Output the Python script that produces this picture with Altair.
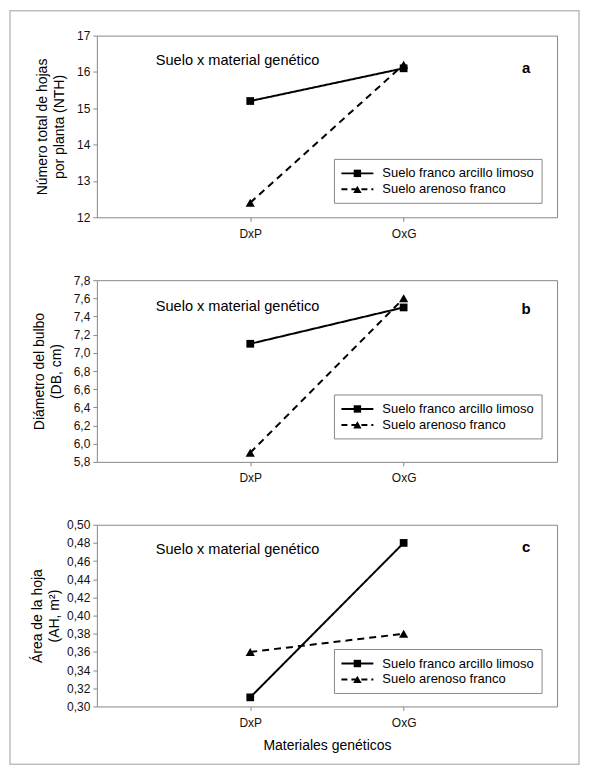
import pandas as pd
import altair as alt

materiales = ["DxP", "OxG"]
series = ["Suelo franco arcillo limoso", "Suelo arenoso franco"]

# a) numero total de hojas
nth_fal = [15.2, 16.1]
nth_af = [12.4, 16.2]
# b) diametro del bulbo
db_fal = [7.1, 7.5]
db_af = [5.9, 7.6]
# c) area de la hoja
ah_fal = [0.31, 0.48]
ah_af = [0.36, 0.38]

ticks_a = [12, 13, 14, 15, 16, 17]
ticks_b = [5.8, 6.0, 6.2, 6.4, 6.6, 6.8, 7.0, 7.2, 7.4, 7.6, 7.8]
ticks_c = [0.30, 0.32, 0.34, 0.36, 0.38, 0.40, 0.42, 0.44, 0.46, 0.48, 0.50]

FONT = "Liberation Sans"
W, H = 461, 182
DASH = [7, 5]


def tabla(fal, af):
    filas = []
    for s, vals in zip(series, [fal, af]):
        for m, v in zip(materiales, vals):
            filas.append({"material": m, "serie": s, "valor": v})
    return pd.DataFrame(filas)


def leyenda(top):
    caja = alt.Chart(pd.DataFrame({"k": [0]})).mark_rect(
        fill="white", stroke="#888888", strokeWidth=1
    ).encode(x=alt.value(238), x2=alt.value(446), y=alt.value(top), y2=alt.value(top + 44))
    capas = [caja]
    for i, (s, forma, dash) in enumerate(zip(series, ["square", "triangle-up"], [[1, 0], [6, 4]])):
        ly = top + 14 + 16 * i
        d = pd.DataFrame({"serie": [s]})
        capas.append(alt.Chart(d).mark_rule(color="black", strokeWidth=2, strokeDash=dash).encode(
            x=alt.value(245), x2=alt.value(277), y=alt.value(ly)))
        capas.append(alt.Chart(d).mark_point(shape=forma, filled=True, opacity=1, color="black",
                                             size=55 if forma == "square" else 70).encode(
            x=alt.value(261), y=alt.value(ly)))
        capas.append(alt.Chart(d).mark_text(align="left", baseline="middle", fontSize=13,
                                            font=FONT, color="black").encode(
            x=alt.value(286), y=alt.value(ly), text="serie:N"))
    return capas


def panel(fal, af, dominio, ticks, titulo_y, expr, letra, letra_y, texto_y, ley_top,
          pad_titulo, titulo_x=None, marco=False):
    df = tabla(fal, af)
    xaxis = alt.Axis(labelAngle=0, tickSize=4, labelPadding=7, domain=False)
    if titulo_x:
        xaxis = alt.Axis(labelAngle=0, tickSize=4, labelPadding=7, domain=False,
                         title=titulo_x, titlePadding=10)
    x = alt.X("material:N", scale=alt.Scale(domain=materiales, padding=1),
              axis=xaxis, title=titulo_x if titulo_x else None)
    y = alt.Y("valor:Q", scale=alt.Scale(domain=dominio, nice=False, zero=False),
              axis=alt.Axis(values=ticks, labelExpr=expr, tickSize=4, labelPadding=3,
                            domain=False, titlePadding=pad_titulo, titleLineHeight=17),
              title=titulo_y)
    base = alt.Chart(df).encode(x=x, y=y)
    lineas = base.mark_line(color="black", strokeWidth=2).encode(
        strokeDash=alt.StrokeDash("serie:N", scale=alt.Scale(domain=series, range=[[1, 0], DASH]),
                                  legend=None),
        detail="serie:N")
    puntos = base.mark_point(filled=True, opacity=1, color="black").encode(
        shape=alt.Shape("serie:N", scale=alt.Scale(domain=series, range=["square", "triangle-up"]),
                        legend=None),
        size=alt.Size("serie:N", scale=alt.Scale(domain=series, range=[60, 85]), legend=None))
    rotulo = alt.Chart(pd.DataFrame({"t": ["Suelo x material genético"]})).mark_text(
        align="left", baseline="middle", fontSize=14.6, font=FONT, color="black"
    ).encode(x=alt.value(59), y=alt.value(texto_y), text="t:N")
    letra_m = alt.Chart(pd.DataFrame({"t": [letra]})).mark_text(
        align="center", baseline="middle", fontSize=15, fontWeight="bold", font=FONT, color="black"
    ).encode(x=alt.value(430), y=alt.value(letra_y), text="t:N")
    capas = []
    if marco:
        capas.append(alt.Chart(pd.DataFrame({"k": [0]})).mark_rect(
            fillOpacity=0, stroke="#bdbdbd", strokeWidth=1.5
        ).encode(x=alt.value(-87), x2=alt.value(483), y=alt.value(-25), y2=alt.value(730)))
    capas += [lineas, puntos, rotulo, letra_m] + leyenda(ley_top)
    return alt.layer(*capas).properties(width=W, height=H)


pa = panel(nth_fal, nth_af, [12, 17], ticks_a, ["Número total de hojas", "por planta (NTH)"],
           "format(datum.value, 'd')", "a", 32, 25, 124, 10, marco=True)
pb = panel(db_fal, db_af, [5.8, 7.8], ticks_b, ["Diámetro del bulbo", "(DB, cm)"],
           "replace(format(datum.value, '.1f'), '.', ',')", "b", 29, 27, 115, 10)
pc = panel(ah_fal, ah_af, [0.30, 0.50], ticks_c, ["Área de la hoja", "(AH, m²)"],
           "replace(format(datum.value, '.2f'), '.', ',')", "c", 22, 25, 125, 5,
           titulo_x="Materiales genéticos")

chart = alt.vconcat(pa, pb, pc, spacing=63, bounds="flush").properties(
    padding=0
).configure_view(
    stroke="#888888", strokeWidth=1
).configure_axis(
    grid=False, labelFont=FONT, titleFont=FONT, labelFontSize=12, titleFontSize=14,
    titleFontWeight="normal", labelColor="#111111", titleColor="black",
    tickColor="#888888", domainColor="#888888"
)

chart.save("out.html", embed_options={"renderer": "svg", "actions": False})
